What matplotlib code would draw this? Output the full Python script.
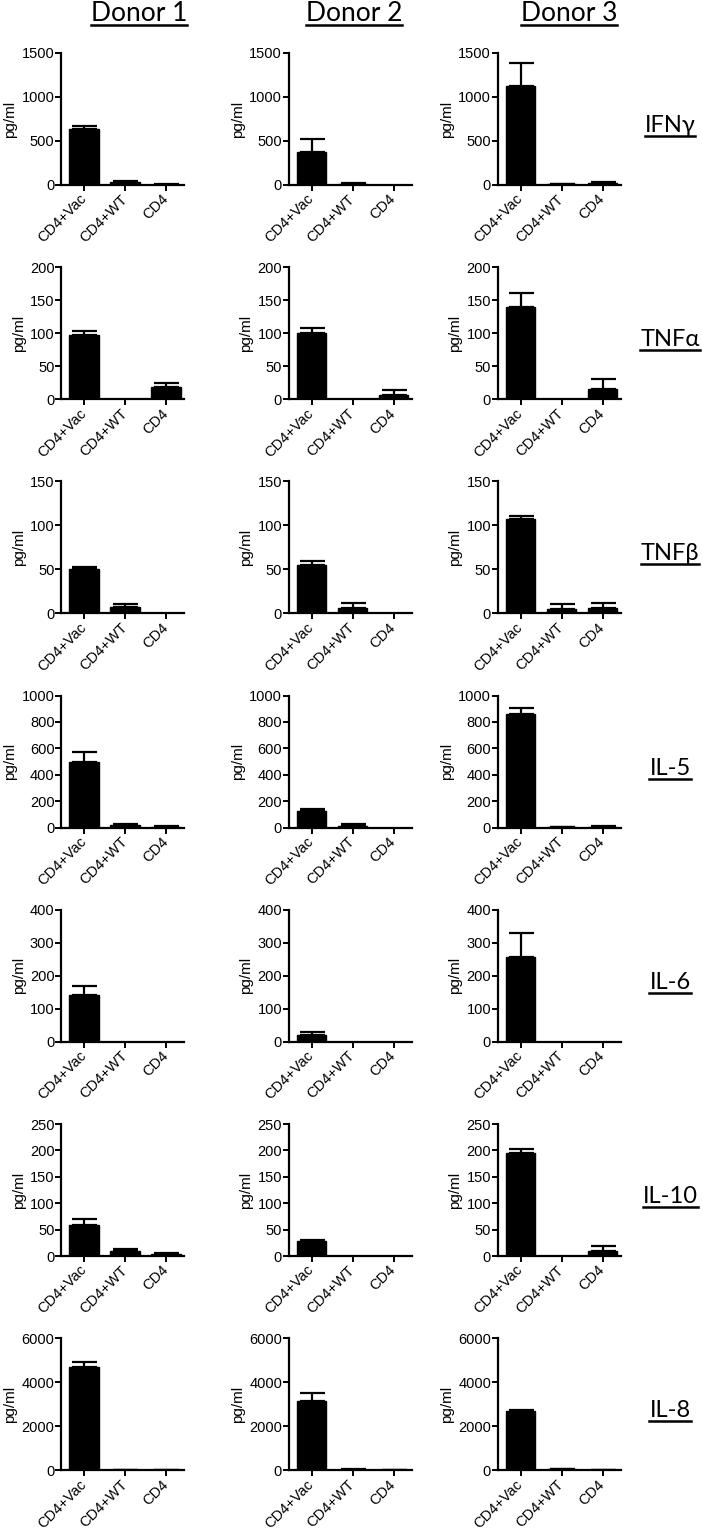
import matplotlib
matplotlib.use('Agg')

import matplotlib.pyplot as plt
from matplotlib.lines import Line2D

# ----------------------------------------------------------------------------
# Data

donors = ['Donor 1', 'Donor 2', 'Donor 3']
groups = ['CD4+Vac', 'CD4+WT', 'CD4']
cytokines = ['IFNγ', 'TNFα', 'TNFβ', 'IL-5', 'IL-6', 'IL-10', 'IL-8']
y_max = [1500, 200, 150, 1000, 400, 250, 6000]
y_step = [500, 50, 50, 200, 100, 50, 2000]

# one list per donor: [CD4+Vac, CD4+WT, CD4]
ifng_mean = [[640, 35, 5], [375, 15, 0], [1120, 10, 20]]
ifng_err = [[30, 10, 5], [150, 10, 0], [270, 5, 15]]

tnfa_mean = [[98, 0, 18], [100, 0, 7], [139, 0, 15]]
tnfa_err = [[6, 0, 6], [8, 0, 7], [22, 0, 15]]

tnfb_mean = [[50, 7, 0], [55, 6, 0], [107, 5, 6]]
tnfb_err = [[3, 4, 0], [4, 6, 0], [4, 6, 6]]

il5_mean = [[500, 18, 5], [125, 15, 0], [860, 3, 8]]
il5_err = [[75, 10, 5], [17, 10, 0], [45, 3, 7]]

il6_mean = [[142, 0, 0], [20, 0, 0], [257, 0, 0]]
il6_err = [[26, 0, 0], [9, 0, 0], [73, 0, 0]]

il10_mean = [[58, 9, 3], [28, 0, 0], [195, 0, 9]]
il10_err = [[13, 5, 3], [2, 0, 0], [8, 0, 9]]

il8_mean = [[4680, 20, 10], [3130, 30, 10], [2680, 60, 15]]
il8_err = [[250, 10, 5], [370, 15, 5], [60, 15, 5]]

means = [ifng_mean, tnfa_mean, tnfb_mean, il5_mean, il6_mean, il10_mean,
         il8_mean]
errors = [ifng_err, tnfa_err, tnfb_err, il5_err, il6_err, il10_err, il8_err]

# ----------------------------------------------------------------------------
# Layout (pixels, figure is 702 x 1535 at 100 dpi)

W, H = 702, 1535
col_left = [61.5, 289, 498]
ax_w, ax_h = 123, 132
row_bottom0, row_step = 185, 214.2
title_x = [139, 354, 569]
label_x = 670

plt.rcParams['font.family'] = ['Liberation Sans', 'DejaVu Sans']
title_font = ['Lato', 'Open Sans', 'DejaVu Sans']

fig = plt.figure(figsize=(W / 100, H / 100), dpi=100)
fig.patch.set_facecolor('white')

x = list(range(len(groups)))

for i, cyto in enumerate(cytokines):
    bottom = row_bottom0 + i * row_step
    for j in range(len(donors)):
        ax = fig.add_axes([col_left[j] / W, 1 - bottom / H, ax_w / W, ax_h / H])
        vals = means[i][j]
        errs = errors[i][j]
        ax.bar(x, vals, width=0.72, color='black', edgecolor='black',
               linewidth=1, zorder=2)
        # upper error bars only, skip the empty ones
        keep = [k for k in x if errs[k] > 0]
        if keep:
            ax.errorbar([x[k] for k in keep], [vals[k] for k in keep],
                        yerr=[[0] * len(keep), [errs[k] for k in keep]],
                        fmt='none', ecolor='black', elinewidth=1.6,
                        capsize=9, capthick=1.6, zorder=3)
        ax.set_xlim(-0.55, 2.45)
        ax.set_ylim(0, y_max[i])
        ax.set_yticks(range(0, y_max[i] + 1, y_step[i]))
        ax.set_xticks(x)
        ax.set_xticklabels(groups, rotation=45, ha='right', va='center',
                           rotation_mode='anchor', fontsize=10.5)
        ax.tick_params(axis='y', labelsize=10.5, length=4, width=1.4, pad=1)
        ax.tick_params(axis='x', length=4.5, width=1.4, pad=4)
        for side in ['top', 'right']:
            ax.spines[side].set_visible(False)
        for side in ['left', 'bottom']:
            ax.spines[side].set_linewidth(1.6)
        ax.set_ylabel('pg/ml', fontsize=11, labelpad=3)
        ax.patch.set_alpha(0)

    y_lab = bottom - ax_h / 2 + 13
    fig.text(label_x / W, 1 - y_lab / H, cyto, ha='center', va='baseline',
             fontsize=17, family=title_font)

for j, donor in enumerate(donors):
    fig.text(title_x[j] / W, 1 - 21 / H, donor, ha='center', va='baseline',
             fontsize=19, family=title_font)

# underline the titles and row labels
fig.canvas.draw()
renderer = fig.canvas.get_renderer()
for t in fig.texts:
    bb = t.get_window_extent(renderer)
    y_line = t.get_position()[1] * H - 4
    fig.add_artist(Line2D([bb.x0 / W, bb.x1 / W], [y_line / H, y_line / H],
                          transform=fig.transFigure, color='black',
                          linewidth=1.8))

fig.savefig('out.png', dpi=100)
